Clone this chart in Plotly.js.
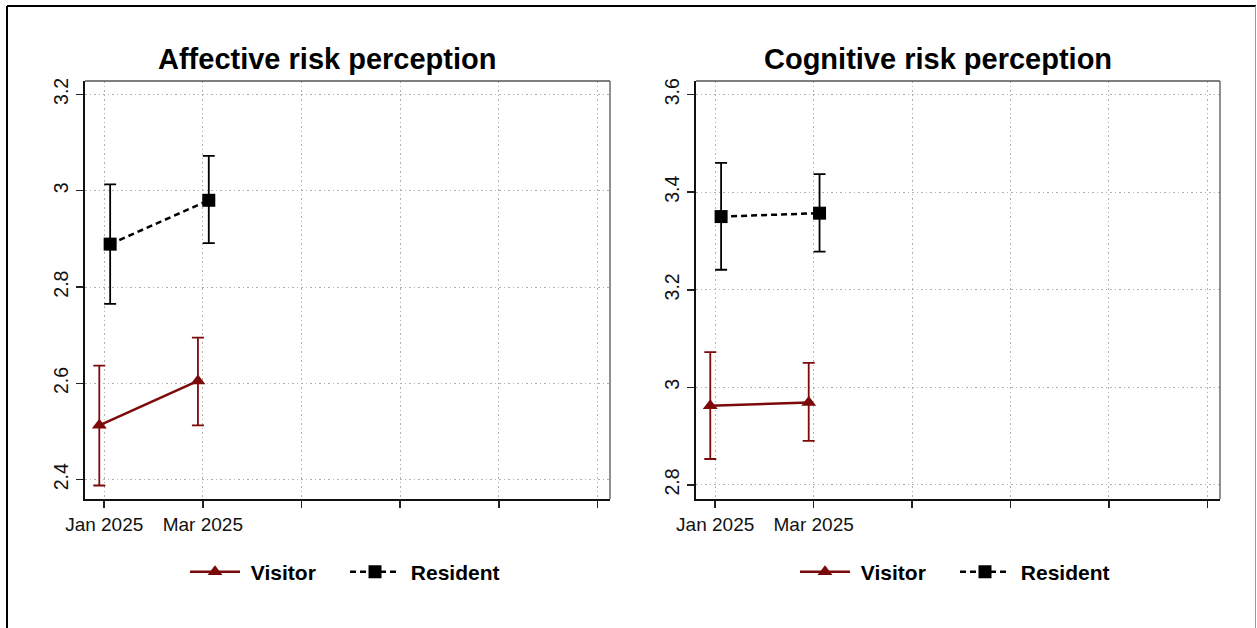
<!DOCTYPE html>
<html><head><meta charset="utf-8">
<script src="https://cdn.plot.ly/plotly-3.0.1.min.js"></script>
<style>html,body{margin:0;padding:0;background:#fff}#chart{width:1257px;height:628px}</style>
</head><body><div id="chart"></div>
<script>
// ---- data ----
const months = ['Jan 2025', 'Mar 2025'];
const xTickText = ['Jan 2025', 'Mar 2025', '', '', '', ''];
const groups = ['Visitor', 'Resident'];

// Affective risk perception
const affVisitorMean = [2.513, 2.605];
const affVisitorLow  = [2.388, 2.513];
const affVisitorHigh = [2.637, 2.695];
const affResidentMean = [2.889, 2.980];
const affResidentLow  = [2.765, 2.891];
const affResidentHigh = [3.013, 3.072];

// Cognitive risk perception
const cogVisitorMean = [2.962, 2.969];
const cogVisitorLow  = [2.853, 2.890];
const cogVisitorHigh = [3.072, 3.050];
const cogResidentMean = [3.350, 3.357];
const cogResidentLow  = [3.241, 3.278];
const cogResidentHigh = [3.460, 3.437];

const affYTicks = [2.4, 2.6, 2.8, 3, 3.2];
const affYText  = ['2.4', '2.6', '2.8', '3', '3.2'];
const cogYTicks = [2.8, 3, 3.2, 3.4, 3.6];
const cogYText  = ['2.8', '3', '3.2', '3.4', '3.6'];

// ---- styling ----
const RED = '#7d0a0a';
const BLK = '#000000';
const dodge = {Visitor: -0.05, Resident: 0.06};
const idx = months.map((m, i) => i);

function mk(name, mean, lo, hi, xa, ya, legend) {
  const isV = name === 'Visitor';
  const col = isV ? RED : BLK;
  return {
    type: 'scatter', mode: 'lines+markers', name: '\u00a0' + name,
    x: idx.map(i => i + dodge[name]), y: mean,
    xaxis: xa, yaxis: ya, legend: legend, showlegend: true,
    line: {color: col, width: 2.5, dash: isV ? 'solid' : '6px,4px'},
    marker: {symbol: isV ? 'triangle-up' : 'square', size: 13, color: col},
    error_y: {type: 'data', symmetric: false,
      array: hi.map((h, i) => h - mean[i]),
      arrayminus: lo.map((l, i) => mean[i] - l),
      color: col, thickness: 1.8, width: 6}
  };
}

const data = [
  mk(groups[0], affVisitorMean, affVisitorLow, affVisitorHigh, 'x', 'y', 'legend'),
  mk(groups[1], affResidentMean, affResidentLow, affResidentHigh, 'x', 'y', 'legend'),
  mk(groups[0], cogVisitorMean, cogVisitorLow, cogVisitorHigh, 'x2', 'y2', 'legend2'),
  mk(groups[1], cogResidentMean, cogResidentLow, cogResidentHigh, 'x2', 'y2', 'legend2')
];

const FONT = 'Liberation Sans, Arial, sans-serif';
const GRID = {showgrid: true, gridcolor: '#b0b0b0', griddash: '1.5px,3px', gridwidth: 1};
function xax(domain, anchor) {
  return Object.assign({domain: domain, anchor: anchor, range: [-0.195, 5.128],
    tickmode: 'array', tickvals: [0,1,2,3,4,5], ticktext: xTickText,
    ticks: 'outside', ticklen: 7, tickwidth: 1.5, tickcolor: '#222',
    showline: true, linecolor: '#111', linewidth: 2,
    zeroline: false, tickfont: {family: FONT, size: 19, color: '#111'}, fixedrange: true}, GRID);
}
function yax(range, tv, tt, anchor) {
  return Object.assign({domain: [0, 1], anchor: anchor, range: range,
    tickmode: 'array', tickvals: tv, ticktext: tt, tickangle: -90,
    ticks: 'outside', ticklen: 7, tickwidth: 1.5, tickcolor: '#222',
    showline: true, linecolor: '#111', linewidth: 2,
    zeroline: false, tickfont: {family: FONT, size: 19.5, color: '#111'}, fixedrange: true}, GRID);
}

const L = 85, R = 37, T = 81, B = 129, W = 1257, H = 628;
const pw = W - L - R, ph = H - T - B;
const px = v => (v - L) / pw;
const py = v => (H - B - v) / ph;

const d1 = [0, px(610)], d2 = [px(696), 1];

const shapes = [
  {type: 'line', xref: 'paper', yref: 'paper', x0: d1[0], x1: d1[1], y0: 1, y1: 1, line: {color: '#555', width: 1.3}},
  {type: 'line', xref: 'paper', yref: 'paper', x0: d1[1], x1: d1[1], y0: 0, y1: 1, line: {color: '#555', width: 1.3}},
  {type: 'line', xref: 'paper', yref: 'paper', x0: d2[0], x1: d2[1], y0: 1, y1: 1, line: {color: '#555', width: 1.3}},
  {type: 'line', xref: 'paper', yref: 'paper', x0: d2[1], x1: d2[1], y0: 0, y1: 1, line: {color: '#555', width: 1.3}},
  {type: 'line', xref: 'paper', yref: 'paper', x0: px(7), x1: px(1256), y0: py(6), y1: py(6), line: {color: '#000', width: 2}},
  {type: 'line', xref: 'paper', yref: 'paper', x0: px(7), x1: px(7), y0: py(6), y1: py(640), line: {color: '#000', width: 2}},
  {type: 'line', xref: 'paper', yref: 'paper', x0: px(1255.5), x1: px(1255.5), y0: py(6), y1: py(640), line: {color: '#999', width: 1}}
];

const titleFont = {family: FONT, size: 29, color: '#000', weight: 'bold'};
const annotations = [
  {text: '<b>Affective risk perception</b>', xref: 'paper', yref: 'paper', x: px(326.5), y: py(59), xanchor: 'center', yanchor: 'middle', showarrow: false, font: titleFont},
  {text: '<b>Cognitive risk perception</b>', xref: 'paper', yref: 'paper', x: px(937.5), y: py(59), xanchor: 'center', yanchor: 'middle', showarrow: false, font: titleFont}
];

const legFont = {family: FONT, size: 21, color: '#000', weight: 'bold'};
const legCommon = {orientation: 'h', yanchor: 'middle', xanchor: 'left', font: legFont, itemwidth: 50, entrywidth: 95, bgcolor: 'rgba(0,0,0,0)'};
const layout = {
  width: W, height: H, margin: {l: L, r: R, t: T, b: B},
  paper_bgcolor: '#fff', plot_bgcolor: '#fff',
  xaxis: xax(d1, 'y'), yaxis: yax([2.36, 3.2276], affYTicks, affYText, 'x'),
  xaxis2: xax(d2, 'y2'), yaxis2: yax([2.771, 3.628], cogYTicks, cogYText, 'x2'),
  shapes: shapes, annotations: annotations,
  legend: Object.assign({x: px(185), y: py(572)}, legCommon),
  legend2: Object.assign({x: px(795), y: py(572)}, legCommon)
};

Plotly.newPlot('chart', data, layout, {displayModeBar: false, staticPlot: true});
</script></body></html>
